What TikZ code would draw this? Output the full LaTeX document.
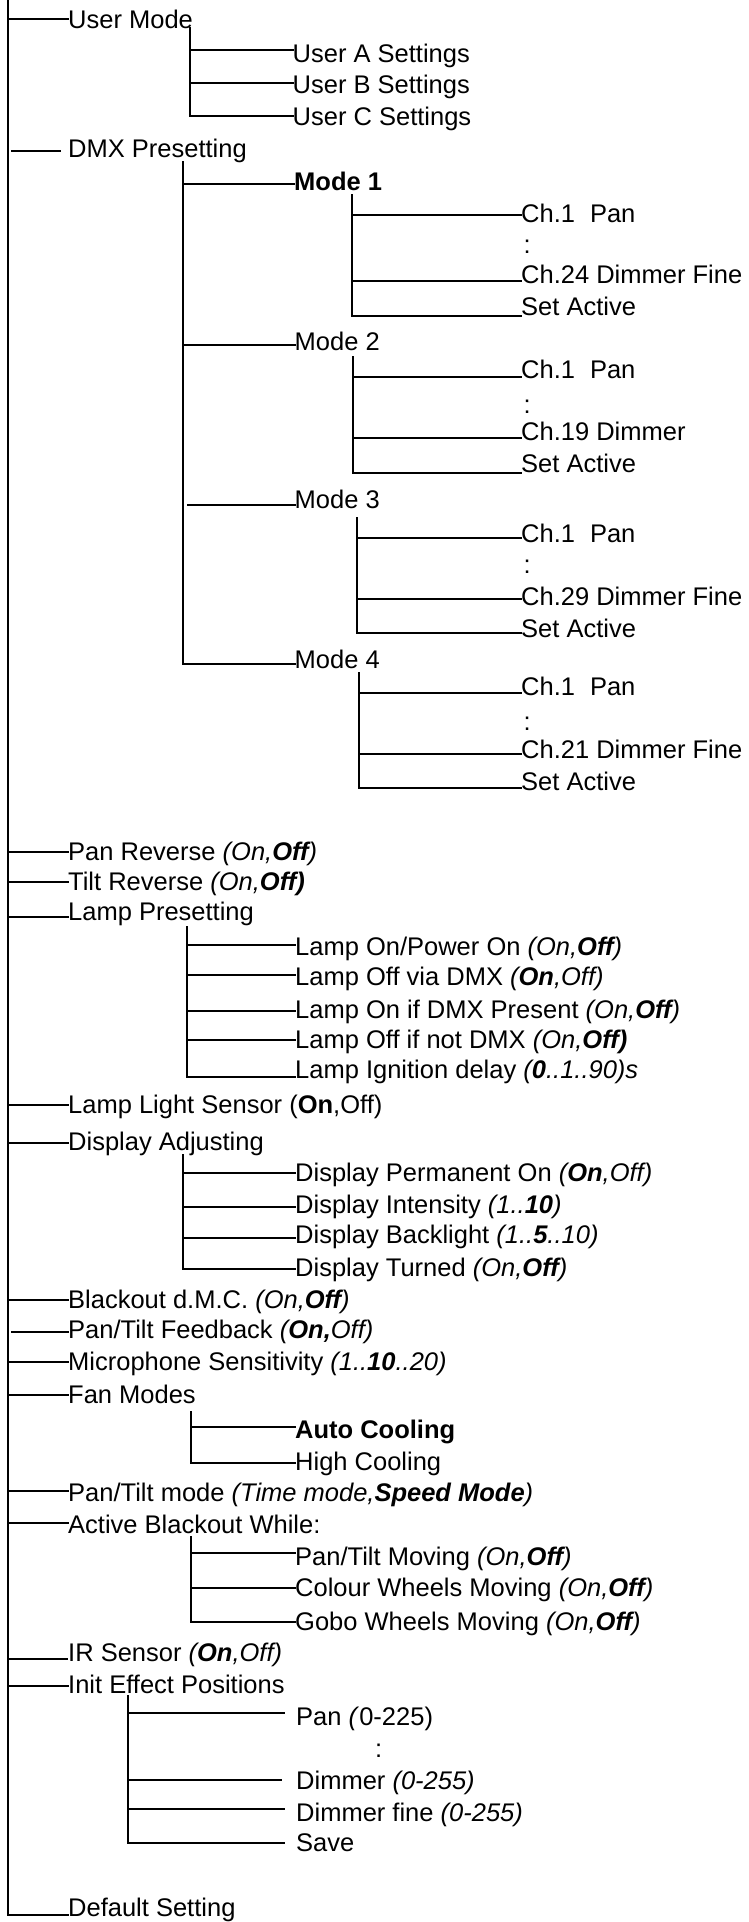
\documentclass[tikz,border=0pt]{standalone}
\usepackage{fontspec}
\setmainfont{Liberation Sans}
\tikzset{
  lbl/.style={inner sep=0pt, anchor=base west, font=\fontsize{25.5}{30}\selectfont},
  ln/.style={line width=2.1pt, line cap=rect},
}
% #1 name, #2 stem coordinate, #3 line y, #4 line end x, #5 text x, #6 text baseline y, #7 text
\newcommand\kid[7]{%
  \node[lbl] (#1) at (#5,#6) {#7};
  \draw[ln] (#2 |- 0,#3) -- ([xshift={#4pt-#5pt},yshift={#6pt-#3pt}]#1.base west);
}
\newcommand\dotsnode[3]{\node[lbl] (#1) at (#2,#3) {:};}
\begin{document}
\begin{tikzpicture}[x=1pt,y=-1pt]
\useasboundingbox (0,0) rectangle (748,1922);
% stems
\coordinate (sM) at (8.3,0);
\coordinate (sMg) at (12.5,0);
\coordinate (sUM) at (190,28.3);
\coordinate (sD) at (183,162.3);
\coordinate (sDg) at (188.5,162.3);
\coordinate (s1) at (351.7,195);
\coordinate (s2) at (353,357);
\coordinate (s3) at (357,518);
\coordinate (s4) at (359,673);
\coordinate (sL) at (186.7,926.7);
\coordinate (sDA) at (182.7,1155);
\coordinate (sF) at (190.8,1411.7);
\coordinate (sAB) at (190.9,1536.7);
\coordinate (sI) at (128.4,1695.7);

\draw[ln] (sM) -- (sM |- 0,1915);
\draw[ln] (sUM) -- (sUM |- 0,116);
\draw[ln] (sD) -- (sD |- 0,664);
\draw[ln] (s1) -- (s1 |- 0,315.7);
\draw[ln] (s2) -- (s2 |- 0,473);
\draw[ln] (s3) -- (s3 |- 0,633);
\draw[ln] (s4) -- (s4 |- 0,788);
\draw[ln] (sL) -- (sL |- 0,1076.7);
\draw[ln] (sDA) -- (sDA |- 0,1269.3);
\draw[ln] (sF) -- (sF |- 0,1463.3);
\draw[ln] (sAB) -- (sAB |- 0,1621.7);
\draw[ln] (sI) -- (sI |- 0,1843.3);

% top level
\kid{um}{sM}{19.3}{68}{68}{28.3}{User Mode}
\kid{dmx}{sMg}{150.7}{60}{68}{157}{DMX Presetting}
\kid{pr}{sM}{851.7}{68}{68}{860}{Pan Reverse \textit{(On,\textbf{Off})}}
\kid{tr}{sM}{881.7}{68}{68}{890}{Tilt Reverse \textit{(On,\textbf{Off)}}}
\kid{lp}{sM}{917.3}{68}{68}{920.7}{Lamp Presetting}
\kid{lls}{sM}{1105}{68}{68}{1113.3}{Lamp Light Sensor (\textbf{On},Off)}
\kid{da}{sM}{1143.3}{68}{68}{1150}{Display Adjusting}
\kid{bo}{sM}{1300}{68}{68}{1308.3}{Blackout d.M.C. \textit{(On,\textbf{Off})}}
\kid{ptf}{sMg}{1331.7}{68}{68}{1338.3}{Pan/Tilt Feedback \textit{(\textbf{On,}Off)}}
\kid{mic}{sM}{1361.7}{68}{68}{1370}{Microphone Sensitivity \textit{(1..\textbf{10}..20)}}
\kid{fan}{sM}{1395}{68}{68}{1403.3}{Fan Modes}
\kid{ptm}{sM}{1490.7}{68}{68}{1501.7}{Pan/Tilt mode \textit{(Time mode,\textbf{Speed Mode})}}
\kid{ab}{sM}{1522.7}{68}{68}{1533.3}{Active Blackout While:}
\kid{ir}{sM}{1659.3}{67.3}{68}{1661.7}{IR Sensor \textit{(\textbf{On},Off)}}
\kid{iep}{sM}{1686}{68}{68}{1693.3}{Init Effect Positions}
\kid{def}{sM}{1915}{68}{68}{1916.7}{Default Setting}

% user mode
\kid{ua}{sUM}{50}{292.5}{292.5}{62}{User A Settings}
\kid{ub}{sUM}{83.3}{292.5}{292.5}{93}{User B Settings}
\kid{uc}{sUM}{116}{292.5}{292.5}{125}{User C Settings}

% DMX presetting
\kid{m1}{sD}{184}{294}{294}{190}{\textbf{Mode 1}}
\kid{m2}{sD}{345}{294.5}{294.5}{350}{Mode 2}
\kid{m3}{sDg}{505}{294.5}{294.5}{508}{Mode 3}
\kid{m4}{sD}{664}{294.5}{294.5}{668}{Mode 4}

\kid{c1a}{s1}{215}{521}{521}{222}{Ch.1\hspace{15pt}Pan}
\dotsnode{d1}{523.5}{253}
\kid{c1b}{s1}{281}{521}{521}{283}{Ch.24 Dimmer Fine}
\kid{c1c}{s1}{315.7}{521}{521}{315}{Set Active}

\kid{c2a}{s2}{377}{521}{521}{378}{Ch.1\hspace{15pt}Pan}
\dotsnode{d2}{523.5}{413}
\kid{c2b}{s2}{438}{521}{521}{440}{Ch.19 Dimmer}
\kid{c2c}{s2}{473}{521}{521}{472}{Set Active}

\kid{c3a}{s3}{538}{521}{521}{542}{Ch.1\hspace{15pt}Pan}
\dotsnode{d3}{523.5}{573}
\kid{c3b}{s3}{599}{521}{521}{605}{Ch.29 Dimmer Fine}
\kid{c3c}{s3}{633}{521}{521}{637}{Set Active}

\kid{c4a}{s4}{693}{521}{521}{695}{Ch.1\hspace{15pt}Pan}
\dotsnode{d4}{523.5}{730}
\kid{c4b}{s4}{754}{521}{521}{758}{Ch.21 Dimmer Fine}
\kid{c4c}{s4}{788}{521}{521}{790}{Set Active}

% lamp presetting
\kid{l1}{sL}{945}{295}{295}{955}{Lamp On/Power On \textit{(On,\textbf{Off})}}
\kid{l2}{sL}{975}{295}{295}{985}{Lamp Off via DMX \textit{(\textbf{On},Off)}}
\kid{l3}{sL}{1011}{295}{295}{1018}{Lamp On if DMX Present \textit{(On,\textbf{Off})}}
\kid{l4}{sL}{1040}{295}{295}{1048}{Lamp Off if not DMX \textit{(On,\textbf{Off)}}}
\kid{l5}{sL}{1076.7}{295}{295}{1078}{Lamp Ignition delay \textit{(\textbf{0}..1..90)s}}

% display adjusting
\kid{p1}{sDA}{1173.3}{295}{295}{1181.7}{Display Permanent On \textit{(\textbf{On},Off)}}
\kid{p2}{sDA}{1206.7}{295}{295}{1213.3}{Display Intensity \textit{(1..\textbf{10})}}
\kid{p3}{sDA}{1238.3}{295}{295}{1243.3}{Display Backlight \textit{(1..\textbf{5}..10)}}
\kid{p4}{sDA}{1269.3}{295}{295}{1276.7}{Display Turned \textit{(On,\textbf{Off})}}

% fan modes
\kid{f1}{sF}{1426.7}{295}{295}{1438.3}{\textbf{Auto Cooling}}
\kid{f2}{sF}{1463.3}{295}{295}{1470}{High Cooling}

% active blackout
\kid{a1}{sAB}{1552.7}{295}{295}{1565}{Pan/Tilt Moving \textit{(On,\textbf{Off})}}
\kid{a2}{sAB}{1588.3}{295}{295}{1596.7}{Colour Wheels Moving \textit{(On,\textbf{Off})}}
\kid{a3}{sAB}{1621.7}{295}{295}{1630}{Gobo Wheels Moving \textit{(On,\textbf{Off})}}

% init effect positions
\kid{i1}{sI}{1712.7}{283.7}{296}{1725}{Pan \textit{(}0-225)}
\dotsnode{i2}{375}{1757}
\kid{i3}{sI}{1780}{281}{296}{1789.3}{Dimmer \textit{(0-255)}}
\kid{i4}{sI}{1809.3}{283.7}{296}{1821.7}{Dimmer fine \textit{(0-255)}}
\kid{i5}{sI}{1843.3}{283.7}{296}{1851.7}{Save}
\end{tikzpicture}
\end{document}
